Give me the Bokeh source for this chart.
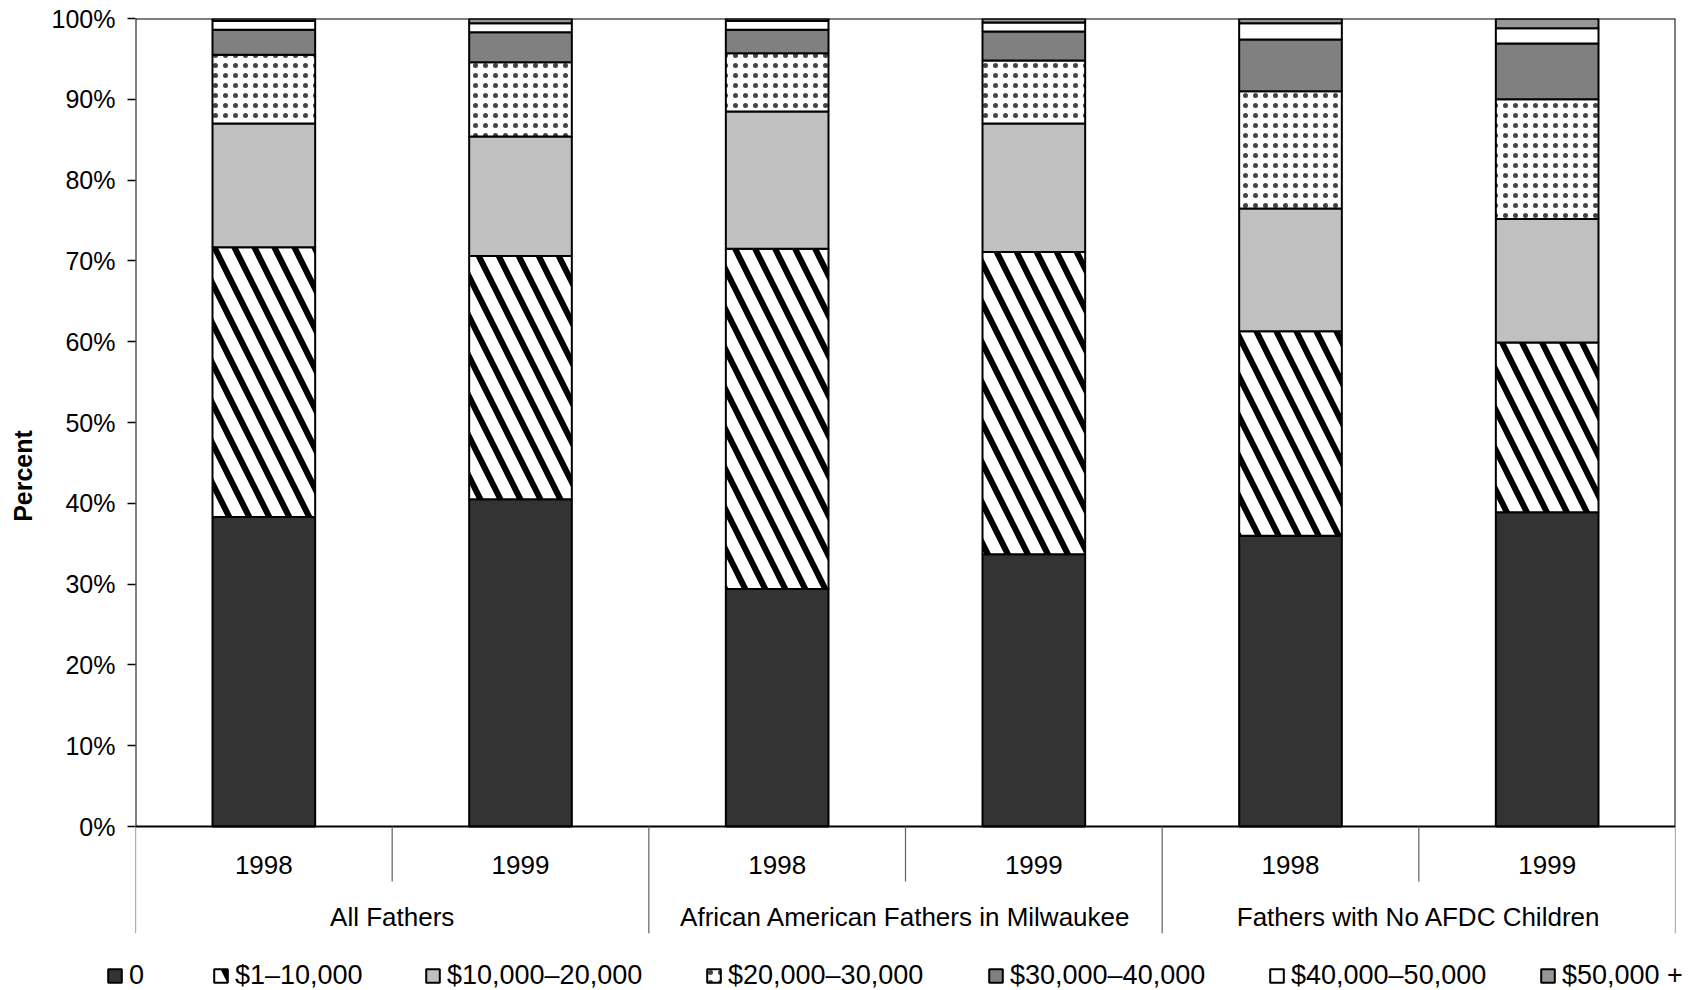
from bokeh.plotting import figure
from bokeh.models import (ColumnDataSource, FactorRange, Range1d, FixedTicker,
                          PrintfTickFormatter, Legend, LegendItem)
from bokeh.layouts import column
from bokeh.core.properties import value
from bokeh.embed import file_html
from bokeh.resources import INLINE

# ---- data -------------------------------------------------------------
groups = ["All Fathers", "African American Fathers in Milwaukee", "Fathers with No AFDC Children"]
years = ["1998", "1999"]
bands = ["0", "$1–10,000", "$10,000–20,000", "$20,000–30,000",
         "$30,000–40,000", "$40,000–50,000", "$50,000 +"]

zero   = [38.3, 40.5, 29.4, 33.7, 36.0, 38.9]
b1_10  = [33.4, 30.1, 42.1, 37.4, 25.3, 21.0]
b10_20 = [15.3, 14.8, 17.0, 15.9, 15.2, 15.3]
b20_30 = [8.5, 9.2, 7.2, 7.8, 14.5, 14.8]
b30_40 = [3.1, 3.7, 2.9, 3.6, 6.4, 6.9]
b40_50 = [1.1, 1.1, 1.1, 1.1, 2.0, 1.9]
b50p   = [0.3, 0.6, 0.3, 0.5, 0.6, 1.2]

y_ticks = [0, 10, 20, 30, 40, 50, 60, 70, 80, 90, 100]

# ---- styles -----------------------------------------------------------
FONT = "Liberation Sans"
fills = ["#333333", "white", "#C0C0C0", "white", "#808080", "white", "#969696"]
patterns = [" ", "\\", " ", ".", " ", " ", " "]
hscales = [12, 40, 10, 10, 12, 12, 12]
hweights = [1, 6, 1, 0.5, 1, 1, 1]
hcolors = ["black", "black", "black", "#444444", "black", "black", "black"]
legend_x = [106, 212, 424, 705, 987, 1268, 1539]   # swatch left edges (px)

factors = [(g, y) for g in groups for y in years]
keys = ["zero", "b1_10", "b10_20", "b20_30", "b30_40", "b40_50", "b50p"]
src = ColumnDataSource(data=dict(x=factors, zero=zero, b1_10=b1_10, b10_20=b10_20,
                                 b20_30=b20_30, b30_40=b30_40, b40_50=b40_50, b50p=b50p))

Y_MIN = -13.24
YEAR_Y = -4.75
GROUP_Y = -11.2
SHORT_Y = -6.8

xr = FactorRange(*factors, factor_padding=0, group_padding=0,
                 subgroup_padding=0, range_padding=0)

p = figure(width=1701, height=945, title=None, toolbar_location=None,
           output_backend="svg", x_range=xr, y_range=Range1d(Y_MIN, 100),
           x_axis_location=None, y_axis_location="left",
           min_border_left=135, min_border_right=26, min_border_top=18, min_border_bottom=12)
p.frame_align = False
p.outline_line_color = None
p.xgrid.visible = False
p.ygrid.visible = False

bar_style = dict(fill_color=fills, line_color="black", line_width=2,
                 hatch_pattern=patterns, hatch_scale=hscales, hatch_weight=hweights,
                 hatch_color=hcolors)
p.vbar_stack(keys, x="x", width=0.4, source=src, **bar_style)

# frame lines
n = len(factors)
p.segment(x0=[0, 0, n, 0], y0=[100, 0, 0, 0], x1=[n, n, n, 0], y1=[100, 0, 100, 100],
          line_color="black", line_width=2)

# separators under the axis
sep_long = list(range(0, n + 1, 2))
sep_short = list(range(1, n, 2))
p.segment(x0=sep_long, y0=[0] * len(sep_long), x1=sep_long, y1=[Y_MIN] * len(sep_long),
          line_color="#606060", line_width=1.2)
p.segment(x0=sep_short, y0=[0] * len(sep_short), x1=sep_short, y1=[SHORT_Y] * len(sep_short),
          line_color="#606060", line_width=1.2)

# category labels
p.text(x=factors, y=[YEAR_Y] * n, text=[f[1] for f in factors],
       text_font=value(FONT), text_font_size="26px", text_color="black",
       text_align="center", text_baseline="middle")
p.text(x=groups, y=[GROUP_Y] * len(groups), text=groups,
       text_font=value(FONT), text_font_size="26px", text_color="black",
       text_align="center", text_baseline="middle")

# y axis
ax = p.yaxis[0]
ax.ticker = FixedTicker(ticks=y_ticks)
ax.formatter = PrintfTickFormatter(format="%d%%")
ax.axis_line_color = None
ax.major_tick_in = 0
ax.major_tick_out = 8
ax.major_tick_line_color = "black"
ax.major_tick_line_width = 1.5
ax.minor_tick_line_color = None
ax.major_label_text_font = FONT
ax.major_label_text_font_size = "25px"
ax.major_label_text_color = "black"
ax.major_label_standoff = 12
ax.axis_label = "Percent"
ax.axis_label_text_font = FONT
ax.axis_label_text_font_size = "25px"
ax.axis_label_text_font_style = "bold"
ax.axis_label_text_color = "black"
ax.axis_label_standoff = 12

# ---- legend strip (own figure, so the key can start left of the frame) ----
p2 = figure(width=1701, height=45, title=None, toolbar_location=None,
            output_backend="svg", x_range=Range1d(0, 1), y_range=Range1d(0, 1),
            x_axis_location=None, y_axis_location=None,
            min_border_left=0, min_border_right=0, min_border_top=0, min_border_bottom=0)
p2.frame_align = False
p2.outline_line_color = None
p2.xgrid.visible = False
p2.ygrid.visible = False

nan = float("nan")
for i, lab in enumerate(bands):
    # key-only renderer: one row with no position, so only its legend swatch shows
    r = p2.vbar(x=[nan], top=[nan], width=0.1, fill_color=fills[i], line_color="black",
                line_width=2, hatch_pattern=patterns[i], hatch_scale=hscales[i],
                hatch_weight=hweights[i], hatch_color=hcolors[i])
    lg = Legend(items=[LegendItem(label=lab, renderers=[r])],
                location=(legend_x[i], -1), orientation="horizontal",
                padding=0, margin=0, spacing=0, glyph_width=17, glyph_height=17,
                label_standoff=6, label_text_font=FONT, label_text_font_size="27px",
                label_text_color="black", border_line_color=None,
                background_fill_alpha=0)
    p2.add_layout(lg, "center")

layout = column(p, p2, spacing=0)
open("out.html", "w").write(file_html(layout, INLINE))
